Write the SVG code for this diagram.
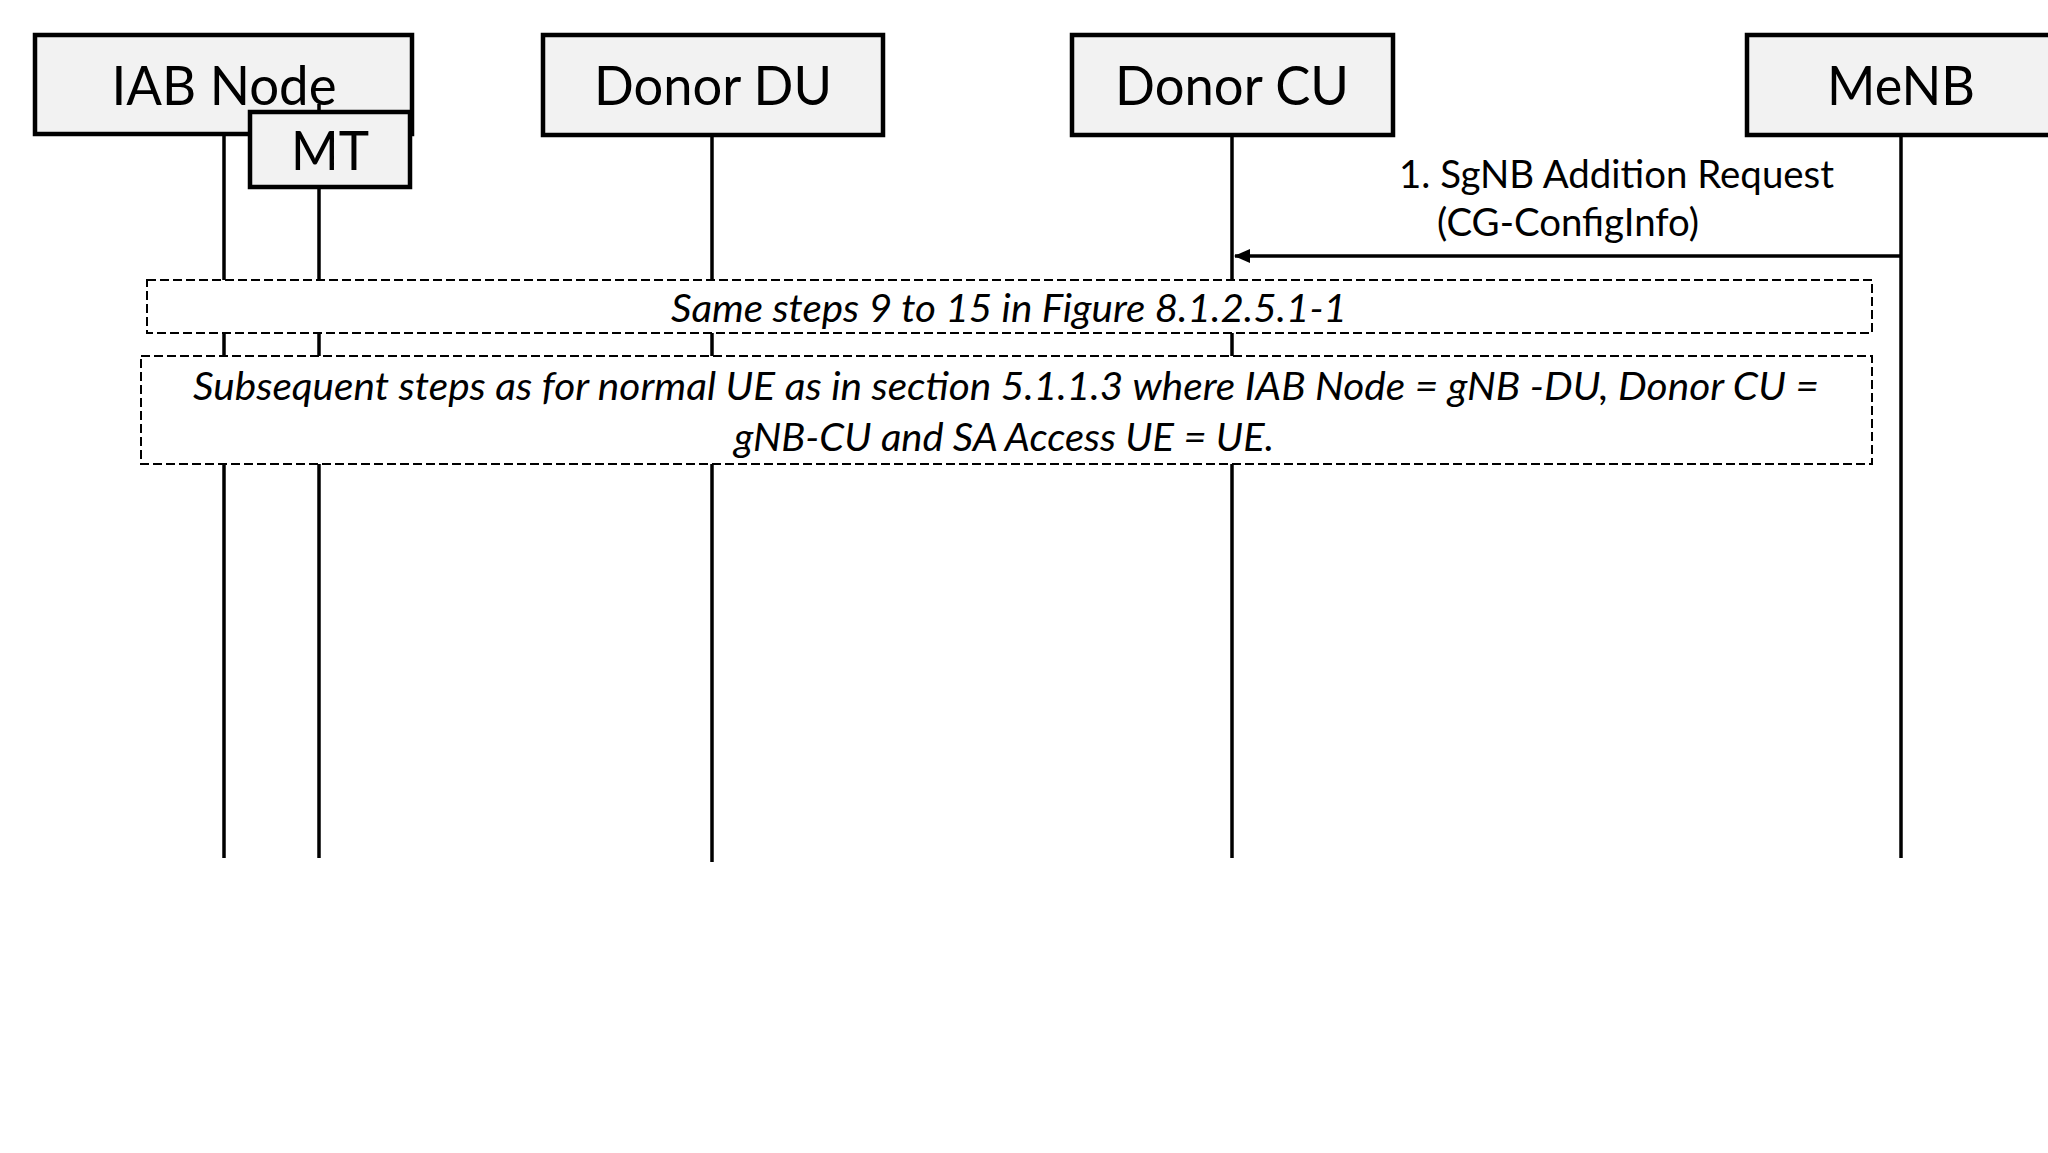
<svg xmlns="http://www.w3.org/2000/svg" width="2048" height="1153" viewBox="0 0 2048 1153">
<style>
.box{fill:#f2f2f2;stroke:#000;stroke-width:4.5}
.title{font-family:Lato,"Liberation Sans",sans-serif;font-size:55px;fill:#000;text-anchor:middle}
.lbl{font-family:Lato,"Liberation Sans",sans-serif;font-size:38px;fill:#000}
.it{font-family:Lato,"Liberation Sans",sans-serif;font-size:38px;font-style:italic;fill:#000;text-anchor:middle}
.life{stroke:#000;stroke-width:3.5;fill:none}
.frag{fill:#fff;stroke:#000;stroke-width:2;stroke-dasharray:9 4}
.msg{stroke:#000;stroke-width:3.5;fill:none}
</style>
<defs>
<marker id="ah" markerUnits="userSpaceOnUse" markerWidth="16" markerHeight="14" refX="15" refY="7" orient="auto">
<path d="M0,0 L16,7 L0,14 Z" fill="#000"/>
</marker>
</defs>
<rect width="2048" height="1153" fill="#fff"/>
<g id="iab-node">
<rect class="box" x="35" y="35" width="377" height="99"/>
<text class="title" x="224" y="105" textLength="225" lengthAdjust="spacingAndGlyphs">IAB Node</text>
</g>
<g id="connectors">
<line class="life" x1="224" y1="134" x2="224" y2="858"/>
<line class="life" x1="319" y1="104" x2="319" y2="858"/>
<line class="life" x1="712" y1="135" x2="712" y2="862"/>
<line class="life" x1="1232" y1="135" x2="1232" y2="858"/>
<line class="life" x1="1901" y1="135" x2="1901" y2="858"/>
<line class="msg" x1="1901" y1="256" x2="1235" y2="256" marker-end="url(#ah)"/>
</g>
<g id="mt">
<rect class="box" x="250" y="112" width="160" height="75"/>
<text class="title" x="330" y="170" textLength="78" lengthAdjust="spacingAndGlyphs">MT</text>
</g>
<g id="donor-du">
<rect class="box" x="543" y="35" width="340" height="100"/>
<text class="title" x="713" y="105" textLength="238" lengthAdjust="spacingAndGlyphs">Donor DU</text>
</g>
<g id="donor-cu">
<rect class="box" x="1072" y="35" width="321" height="100"/>
<text class="title" x="1232" y="105" textLength="234" lengthAdjust="spacingAndGlyphs">Donor CU</text>
</g>
<g id="menb">
<rect class="box" x="1747" y="35" width="320" height="100"/>
<text class="title" x="1901" y="105" textLength="148" lengthAdjust="spacingAndGlyphs">MeNB</text>
</g>
<g id="msg1-label">
<text class="lbl" x="1399" y="188" textLength="435" lengthAdjust="spacingAndGlyphs">1. SgNB Addition Request</text>
<text class="lbl" x="1437" y="236" textLength="262" lengthAdjust="spacingAndGlyphs">(CG-ConfigInfo)</text>
</g>
<g id="fragment-1">
<rect class="frag" x="147" y="280" width="1725" height="53"/>
<text class="it" x="1009" y="322" textLength="676" lengthAdjust="spacingAndGlyphs">Same steps 9 to 15 in Figure 8.1.2.5.1-1</text>
</g>
<g id="fragment-2">
<rect class="frag" x="141" y="356" width="1731" height="108"/>
<text class="it" x="1006" y="400" textLength="1626" lengthAdjust="spacingAndGlyphs">Subsequent steps as for normal UE as in section 5.1.1.3 where IAB Node = gNB -DU, Donor CU =</text>
<text class="it" x="1004" y="451" textLength="540" lengthAdjust="spacingAndGlyphs">gNB-CU and SA Access UE = UE.</text>
</g>
</svg>
